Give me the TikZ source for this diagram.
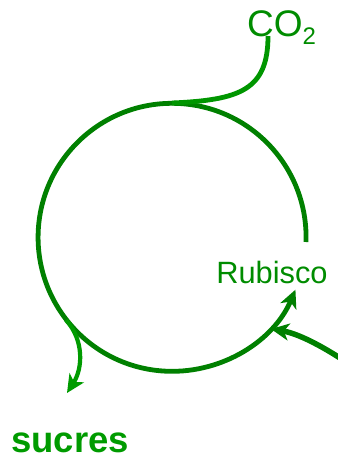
\documentclass[tikz,border=0pt]{standalone}
\usepackage{fontspec}
\setmainfont{Liberation Sans}
\usetikzlibrary{arrows.meta}
\definecolor{gcirc}{RGB}{0,128,0}
\definecolor{gline}{RGB}{0,150,0}
\definecolor{gtext}{RGB}{0,140,0}
\definecolor{gsuc}{RGB}{0,155,0}
\tikzset{
  circ/.style={draw=gcirc, line width=4.8pt},
  flow/.style={draw=gline, line width=4.8pt},
  tip/.style={-{Stealth[length=18pt,width=17pt,inset=5pt]}},
  lbl/.style={text=gtext, inner sep=0pt},
}
\begin{document}
\begin{tikzpicture}[x=1pt,y=-1pt]
\useasboundingbox (0,0) rectangle (337,462);
\coordinate (c) at (172,237);
\coordinate (top) at (172,103);
\coordinate (arcstart) at (306,242);
\coordinate (sstart) at (66,320);
\coordinate (sstop) at (67,393);
\coordinate (instart) at (340,358);
\coordinate (inend) at (271,329);
\node[lbl, anchor=base west] (co2) at (247,37) {\fontsize{37}{40}\selectfont CO\raisebox{-8pt}{\fontsize{24}{24}\selectfont 2}};
\coordinate (co2end) at (268,36);
\node[lbl] (rub) at (272,272) {\fontsize{30.8}{32}\selectfont Rubisco};
\node[lbl, text=gsuc] (suc) at (70,443) {\fontsize{36.5}{38}\selectfont\bfseries sucres};
% cycle
\draw[circ, tip] (arcstart) arc[start angle=2, end angle=-337, radius=134];
% CO2 uptake
\draw[flow] (top) .. controls (240,100) and (268,90) .. (co2end);
% sugars out
\draw[flow, draw=gsuc, line width=4.2pt, tip] (sstart) .. controls (84,340) and (83,368) .. (sstop);
% input arrow
\draw[circ, line width=5.5pt, tip] (instart) .. controls (315,342) and (295,333) .. (inend);
\end{tikzpicture}
\end{document}
